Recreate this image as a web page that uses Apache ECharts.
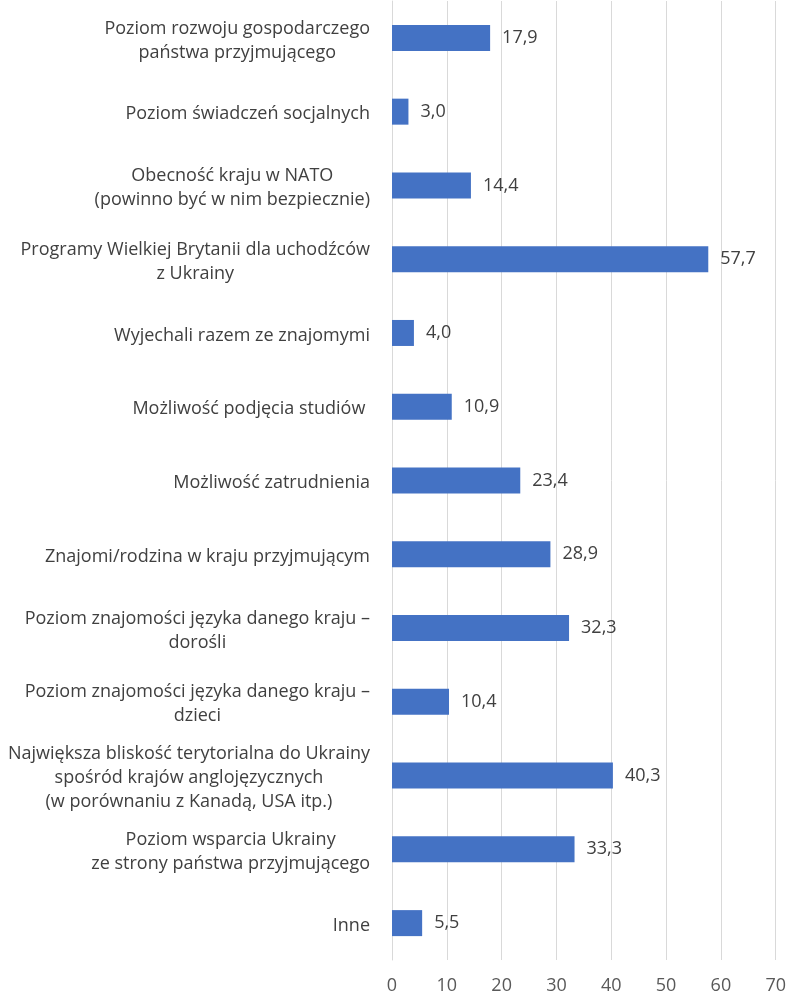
<!DOCTYPE html>
<html>
<head>
<meta charset="utf-8">
<script src="https://cdn.jsdelivr.net/npm/echarts@6/dist/echarts.min.js"></script>
<style>
  html, body { margin: 0; padding: 0; background: #ffffff; }
  #main { width: 789px; height: 1001px; }
</style>
</head>
<body>
<div id="main"></div>
<script>
// kategorie (od góry do dołu)
const categories = [
  "Poziom rozwoju gospodarczego\npaństwa przyjmującego",
  "Poziom świadczeń socjalnych",
  "Obecność kraju w NATO\n(powinno być w nim bezpiecznie)",
  "Programy Wielkiej Brytanii dla uchodźców\nz Ukrainy",
  "Wyjechali razem ze znajomymi",
  "Możliwość podjęcia studiów ",
  "Możliwość zatrudnienia",
  "Znajomi/rodzina w kraju przyjmującym",
  "Poziom znajomości języka danego kraju –\ndorośli",
  "Poziom znajomości języka danego kraju –\ndzieci",
  "Największa bliskość terytorialna do Ukrainy\nspośród krajów anglojęzycznych\n(w porównaniu z Kanadą, USA itp.)",
  "Poziom wsparcia Ukrainy\nze strony państwa przyjmującego",
  "Inne"
];
const values = [17.9, 3.0, 14.4, 57.7, 4.0, 10.9, 23.4, 28.9, 32.3, 10.4, 40.3, 33.3, 5.5];
const xTicks = [0, 10, 20, 30, 40, 50, 60, 70];

const FONT = "Open Sans";
let myChart = echarts.init(document.getElementById("main"));
let option = {
  animation: false,
  textStyle: { fontFamily: FONT },
  grid: { left: 392, right: 13, top: 1, bottom: 41, containLabel: false },
  xAxis: {
    type: "value",
    min: xTicks[0],
    max: xTicks[xTicks.length - 1],
    interval: 10,
    axisLine: { show: false },
    axisTick: { show: false },
    splitLine: { lineStyle: { color: "#d9d9d9", width: 1 } },
    axisLabel: { color: "#595959", fontSize: 18, fontFamily: FONT, margin: 17 }
  },
  yAxis: {
    type: "category",
    inverse: true,
    data: categories,
    axisLine: { show: true, lineStyle: { color: "#d9d9d9" } },
    axisTick: { show: false },
    axisLabel: {
      margin: 22,
      align: "right",
      padding: [5, 0, 0, 0],
      formatter: function (v) {
        return v.split("\n").map(function (l) { return "{c|" + l + "}"; }).join("\n");
      },
      rich: {
        c: { align: "center", color: "#404040", fontSize: 18, fontFamily: FONT, lineHeight: 24 }
      }
    }
  },
  series: [
    {
      type: "bar",
      data: values,
      barWidth: 26,
      itemStyle: { color: "#4472c4" },
      label: {
        show: true,
        position: "right",
        distance: 12,
        color: "#404040",
        fontSize: 18,
        fontFamily: FONT,
        formatter: function (p) { return p.value.toFixed(1).replace(".", ","); }
      }
    }
  ]
};
myChart.setOption(option);
</script>
</body>
</html>
